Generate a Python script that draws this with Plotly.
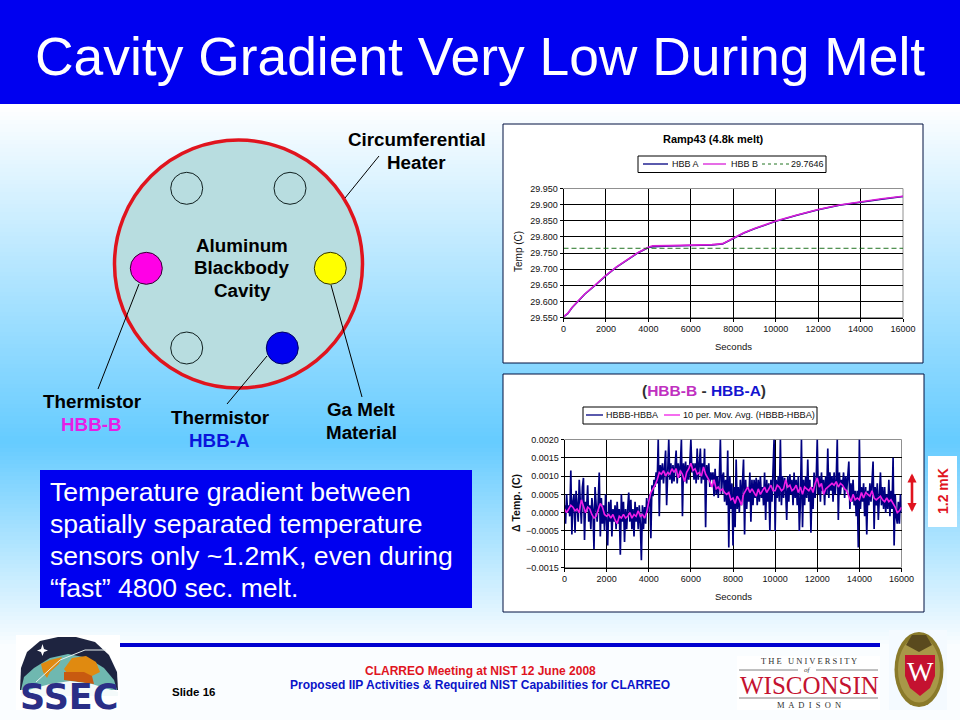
import plotly.graph_objects as go

# ---------- data ----------
ramp_seconds = [0, 200, 400, 700, 1000, 1500, 2000, 2500, 3000, 3500, 4000, 4200, 5000, 6000, 7000, 7500,
                8000, 8500, 9000, 10000, 11000, 12000, 13000, 14000, 15000, 16000]
hbb_a = [29.552, 29.562, 29.580, 29.602, 29.622, 29.650, 29.680, 29.706, 29.728, 29.750, 29.767, 29.769,
         29.772, 29.773, 29.775, 29.778, 29.795, 29.812, 29.825, 29.848, 29.867, 29.884, 29.898, 29.908,
         29.917, 29.925]
hbb_b = [29.553, 29.563, 29.581, 29.603, 29.623, 29.651, 29.681, 29.707, 29.729, 29.751, 29.768, 29.772,
         29.773, 29.774, 29.776, 29.779, 29.796, 29.813, 29.826, 29.849, 29.868, 29.885, 29.899, 29.909,
         29.918, 29.926]
melt_level = [29.7646, 29.7646]
melt_seconds = [0, 16000]

diff_seconds = list(range(0, 16001, 50))
diff_mk = [
    0.2, -0.3, 0.5, 0.0, 0.2, -0.1, 1.15, -0.6, 0.3, 0.5, -0.55, 0.6, 0.2, -0.25, 0.9, 0.1, -0.3, 0.7, 0.95, -0.75,
    0.3, 0.1, 0.75, -0.25, 0.2, -0.45, 0.4, 0.1, -1.0, 0.7, 0.1, -0.25, 0.3, 1.1, -0.65, 0.4, -0.3, 0.2, -0.5, 0.5,
    -0.25, -0.9, 0.3, -0.25, 0.35, -0.65, 0.1, -0.25, 0.2, -0.45, 0.3, -0.3, 0.1, -1.15, 0.5, -0.25, 0.3, -0.8, 0.1, -0.45,
    0.1, 0.55, -0.25, 0.35, -0.45, 0.1, -0.65, 0.3, -0.25, 0.15, -0.45, 0.2, -0.3, -1.3, 0.2, -0.45, 0.15, -0.3, 0.4, 0.0,
    0.3, 0.5, -0.7, 0.75, 0.45, 0.9, 0.7, 1.1, 0.8, 2.0, -0.1, 1.3, 0.9, 1.35, 0.8, 1.25, 1.7, 0.2, 1.3, 2.0,
    0.9, 1.35, 0.8, 1.3, 0.85, 1.35, 1.7, 0.8, 1.35, 0.95, 1.3, 2.0, -0.1, 1.35, 0.85, 1.4, 0.8, 1.3, 0.9, 1.35,
    2.0, 1.1, 1.35, 0.9, 1.35, 0.8, 1.75, 0.9, 1.4, 1.75, 0.8, 1.35, 0.9, 1.75, -0.4, 1.3, 0.9, 1.35, 0.7, 1.1,
    0.9, 1.1, 0.45, 1.2, 0.5, 1.0, 0.4, 0.9, 2.0, 0.5, 1.0, 1.1, 0.3, 0.9, 0.2, 1.7, -0.95, 1.0, 0.1, 0.8,
    -0.9, 0.7, -0.4, 1.45, 0.1, 0.7, 0.0, 0.9, 0.2, 0.8, 1.45, -0.6, 0.9, 0.1, 0.7, 0.3, 1.1, -0.25, 0.9, 0.2,
    0.9, 0.4, 0.95, 0.2, 0.9, 0.3, 1.0, 0.4, 0.7, 0.2, 1.1, -0.2, 0.9, 0.3, 0.8, -0.5, 0.9, 0.3, 1.0, 2.0,
    -0.5, 0.9, 0.4, 1.0, 0.3, 2.0, 0.2, 1.0, 0.4, 0.95, 0.6, -0.2, 1.0, 0.3, 1.05, 0.5, 0.9, 0.2, 1.1, 0.4,
    0.9, 0.2, 1.0, -0.5, 0.3, 2.0, -0.4, 0.9, 0.2, 1.0, 0.4, 1.45, 0.3, 0.9, -0.55, 0.7, 0.1, 1.1, 0.4, 0.9,
    2.0, 0.5, 1.0, 0.3, 1.1, 0.6, 0.9, 0.2, 1.0, 0.5, 1.75, 0.4, 1.1, 0.6, 1.0, 0.3, 1.1, 0.5, 0.9, 2.0,
    -0.2, 1.1, 0.5, 0.9, 0.7, 1.1, 0.4, 1.0, 0.6, 1.0, 1.4, 0.1, 0.8, 0.3, 0.9, 0.2, 0.6, -0.1, 0.6, -0.95,
    2.0, 0.1, 0.7, 0.3, 0.8, -0.1, 0.7, -0.6, 0.6, 0.2, 0.8, 0.3, 0.8, 1.4, -0.45, 0.7, 0.2, 0.8, -0.2, 0.6,
    1.1, 0.2, 0.7, 0.1, 0.7, 0.0, 0.5, 0.1, 0.9, -0.1, 0.6, 0.1, 1.5, -0.9, 0.5, -0.1, -0.3, 0.3, -0.3, 0.5,
    0.0,
]
avg_seconds = list(range(0, 16001, 100))
avg_mk = [
    0.1, 0.0, 0.1, 0.2, 0.15, 0.05, 0.1, 0.0, 0.35, 0.15,
    0.0, 0.15, 0.1, -0.05, -0.15, -0.1, 0.05, 0.25, 0.15, -0.05,
    -0.1, -0.05, -0.15, -0.05, -0.2, -0.3, -0.1, -0.15, -0.05, -0.15,
    -0.1, 0.0, -0.15, -0.05, -0.1, 0.05, -0.1, -0.05, -0.15, 0.0,
    0.3, 0.55, 0.65, 0.75, 0.9, 1.1, 1.05, 1.15, 1.0, 1.1,
    1.05, 1.2, 1.1, 1.2, 0.95, 1.15, 1.05, 0.85, 1.1, 1.2,
    1.35, 1.15, 1.2, 1.05, 1.1, 1.0, 1.25, 1.05, 0.95, 0.85,
    0.7, 0.9, 0.65, 0.7, 0.6, 0.65, 0.55, 0.5, 0.55, 0.35,
    0.4, 0.25, 0.45, 0.35, 0.2, 0.5, 0.6, 0.7, 0.55, 0.65,
    0.55, 0.45, 0.65, 0.5, 0.6, 0.7, 0.55, 0.65, 0.75, 0.6,
    0.6, 0.75, 0.7, 0.6, 0.65, 0.9, 0.7, 0.75, 0.6, 0.65,
    0.75, 0.55, 0.7, 0.5, 0.7, 0.65, 0.6, 0.7, 0.55, 0.8,
    0.95, 0.7, 0.8, 0.5, 0.65, 0.7, 0.75, 0.8, 0.75, 0.85,
    0.7, 0.8, 0.75, 0.65, 0.6, 0.45, 0.3, 0.5, 0.35, 0.4,
    0.35, 0.55, 0.4, 0.55, 0.5, 0.45, 0.6, 0.4, 0.35, 0.4,
    0.45, 0.35, 0.3, 0.4, 0.3, 0.35, 0.25, 0.15, 0.0, 0.05, 0.15,
]
body_lines = ["Temperature gradient between", "spatially separated temperature",
              "sensors only ~1.2mK, even during", "\u201cfast\u201d 4800 sec. melt."]

# ---------- helpers working in page pixels ----------
W, H = 960, 720
def px(x): return x / W
def py(y): return 1 - y / H

shapes = []
annotations = []
def rect(x0, y0, x1, y1, fill, line=None, lw=1):
    shapes.append(dict(type="rect", xref="paper", yref="paper", layer="below", x0=px(x0), x1=px(x1), y0=py(y0), y1=py(y1),
                       fillcolor=fill, line=dict(color=line or "rgba(0,0,0,0)", width=lw if line else 0)))
def circle(cx, cy, r, fill, line="#000000", lw=1):
    shapes.append(dict(type="circle", xref="paper", yref="paper", layer="below", x0=px(cx - r), x1=px(cx + r),
                       y0=py(cy - r), y1=py(cy + r), fillcolor=fill, line=dict(color=line, width=lw)))
def oval(cx, cy, rx, ry, fill, line=None, lw=0):
    shapes.append(dict(type="circle", xref="paper", yref="paper", layer="below", x0=px(cx - rx), x1=px(cx + rx),
                       y0=py(cy - ry), y1=py(cy + ry), fillcolor=fill, line=dict(color=line or fill, width=lw)))
def seg(x0, y0, x1, y1, color="#000000", lw=1, dash="solid"):
    shapes.append(dict(type="line", xref="paper", yref="paper", layer="below", x0=px(x0), x1=px(x1), y0=py(y0), y1=py(y1),
                       line=dict(color=color, width=lw, dash=dash)))
def poly(points, fill):
    d = "M " + " L ".join(f"{px(a):.5f} {py(b):.5f}" for a, b in points) + " Z"
    shapes.append(dict(type="path", xref="paper", yref="paper", layer="below", path=d, fillcolor=fill, line=dict(width=0)))
def text(x, y, s, size, color="#000000", bold=False, anchor="center", family="Liberation Sans", angle=0):
    annotations.append(dict(xref="paper", yref="paper", x=px(x), y=py(y), text=f"<b>{s}</b>" if bold else s, showarrow=False,
                            xanchor=anchor, yanchor="middle", align=anchor, borderpad=0,
                            font=dict(size=size, color=color, family=family), textangle=angle))

# ---------- page background ----------
rect(0, 0, 960, 720, "#FFFFFF")
def mix(t):
    return f"rgb({int(255 + (102 - 255) * t)},{int(255 + (204 - 255) * t)},255)"
for y in range(104, 720, 4):
    t = (y - 104) / (440 - 104) if y < 440 else max(0.03, (650 - y) / (650 - 440))
    rect(0, y, 960, y + 4, mix(t))
rect(0, 0, 960, 104, "#0000F0")
text(480, 57, "Cavity Gradient Very Low During Melt", 53.4, "#FFFFFF")

# ---------- cavity diagram ----------
circle(238.5, 264, 124, "#B8DDE0", "#E0141E", 3.5)
for cx, cy in [(186.7, 188.3), (290, 188.3), (186.7, 348)]:
    circle(cx, cy, 16, "rgba(0,0,0,0)", "#102020", 1)
circle(282.3, 348, 16, "#0000F0", "#000060", 1)
circle(146.3, 268.3, 16, "#FF00E6", "#300030", 1)
circle(330.3, 268.3, 16, "#FFFF00", "#303000", 1)
seg(379, 156, 345, 198)
seg(139, 284, 98, 389)
seg(267, 356, 227, 404)
seg(331, 285, 362, 397)
for s, x, y, c in [("Circumferential", 416.5, 140, "#000000"), ("Heater", 416.5, 163, "#000000"),
                   ("Aluminum", 242, 245, "#000000"), ("Blackbody", 242, 267, "#000000"), ("Cavity", 242, 290, "#000000"),
                   ("Thermistor", 92, 401, "#000000"), ("HBB-B", 91, 424, "#E61EE6"),
                   ("Thermistor", 220, 417, "#000000"), ("HBB-A", 219, 440, "#0A14DC"),
                   ("Ga Melt", 361, 409, "#000000"), ("Material", 361, 432, "#000000")]:
    text(x, y, s, 18.8, c, bold=True)

# ---------- text box ----------
rect(40, 470, 472, 608, "#0000F0")
for i, s in enumerate(body_lines):
    text(49, 492 + i * 32, s, 26.6, "#FFFFFF", anchor="left")

# ---------- chart panels ----------
rect(503, 124, 923, 363, "#FFFFFF", "#001040", 1)
rect(503, 374, 924, 612, "#FFFFFF", "#001040", 1)
rect(563.5, 188.5, 903, 317.5, "#FFFFFF", "#909090", 1)
rect(564.5, 439.5, 901.5, 567.5, "#FFFFFF", "#909090", 1)

# legend boxes with their keys and labels
rect(638, 156, 826, 172.5, "#FFFFFF", "#000000", 1)
seg(643, 164, 668, 164, "#000080", 1.3)
text(671, 164, "HBB A", 9, "#101010", anchor="left")
seg(703, 164, 726, 164, "#D81ED8", 1.3)
text(730, 164, "HBB B", 9, "#101010", anchor="left")
seg(762, 164, 789, 164, "#0A640A", 0.9, "3px,3px")
text(790, 164, "29.7646", 9, "#101010", anchor="left")
rect(583, 407, 817, 424, "#FFFFFF", "#000000", 1)
seg(586, 415, 603, 415, "#000080", 1.3)
text(605, 415, "HBBB-HBBA", 9, "#101010", anchor="left")
seg(664, 415, 680, 415, "#F01EE6", 1.3)
text(682, 415, "10 per. Mov. Avg. (HBBB-HBBA)", 9.2, "#101010", anchor="left")

text(713, 139, "Ramp43 (4.8k melt)", 11, "#000000", bold=True)
text(704, 391, '<span style="color:#303030">(</span><span style="color:#C030C0">HBB-B</span>'
               '<span style="color:#303030"> - </span><span style="color:#1414D0">HBB-A</span>'
               '<span style="color:#303030">)</span>', 15.5, bold=True)
text(519, 252, "Temp (C)", 10, "#101010", angle=-90)
text(733, 346, "Seconds", 9.5, "#101010")
text(516, 503, "\u0394 Temp. (C)", 10.5, "#101010", bold=True, angle=-90)
text(733, 596, "Seconds", 9.5, "#101010")

# ---------- 1.2 mK marker ----------
rect(928, 456, 957, 527, "#FFFFFF")
text(943, 491, "1.2 mK", 14, "#E0141E", bold=True, angle=-90)
annotations.append(dict(xref="paper", yref="paper", axref="pixel", ayref="pixel", x=px(912), y=py(512), ax=0, ay=-40,
                        text="", showarrow=True, arrowside="end+start", arrowhead=2, arrowsize=0.7, arrowwidth=2.6,
                        arrowcolor="#E0141E"))

# ---------- footer ----------
rect(120, 643, 880, 647, "#0000D0")
text(193, 692, "Slide 16", 11.5, "#000000", bold=True)
text(480, 671, "CLARREO Meeting at NIST 12 June 2008", 12, "#E0141E", bold=True)
text(480, 685, "Proposed IIP Activities &amp; Required NIST Capabilities for CLARREO", 12, "#0A14C8", bold=True)

# SSEC logo
rect(16, 635, 120, 710, "#FFFFFF")
poly([(20, 690), (21, 668), (27, 652), (40, 641), (58, 637), (76, 637), (95, 642), (109, 655), (117, 672), (118, 690)], "#1E2440")
poly([(21, 690), (24, 677), (34, 668), (50, 658), (68, 654), (88, 658), (104, 668), (114, 680), (117, 690)], "#6FB8B0")
poly([(41, 664), (50, 660), (62, 657), (59, 664), (50, 672), (47, 678), (43, 672)], "#E08A10")
poly([(64, 669), (72, 658), (86, 656), (96, 662), (100, 672), (88, 678), (70, 677)], "#E08A10")
poly([(64, 680), (64, 672), (84, 672), (92, 676), (94, 684)], "#C85A10")
poly([(21, 692), (50, 684), (70, 681), (92, 684), (118, 692), (118, 696), (21, 696)], "#F4FAFA")
seg(36, 682, 60, 660, "#E8F0F0", 1)
seg(60, 660, 85, 650, "#E8F0F0", 1)
seg(85, 650, 106, 650, "#E8F0F0", 1)
poly([(42.5, 644), (44, 649), (48, 650.5), (44, 652), (42.5, 656), (41, 652), (37, 650.5), (41, 649)], "#FFFFFF")
text(68.5, 697, "SSEC", 35, "#2A2E86", bold=True, family="DejaVu Sans")

# Wisconsin wordmark
rect(737, 656, 880, 710, "#FFFFFF")
text(809, 661, "T H E   U N I V E R S I T Y", 8.5, "#303030", family="Liberation Serif")
seg(739, 670, 798, 670, "#808080", 1)
seg(816, 670, 878, 670, "#808080", 1)
text(807, 670, "<i>of</i>", 7, "#404040", family="Liberation Serif")
text(809, 685, "WISCONSIN", 25, "#C41230", family="Liberation Serif")
seg(739, 698, 878, 698, "#808080", 1)
text(809, 705, "M  A  D  I  S  O  N", 8.5, "#303030", family="Liberation Serif")

# crest
rect(889, 630, 947, 710, "#F4FAFF")
oval(919, 669.5, 24.5, 37.5, "#8A7A2A")
oval(919, 669.5, 21, 33, "#A89848")
poly([(905, 655), (935, 655), (935, 676), (930, 688), (920, 696), (910, 688), (905, 676)], "#C41230")
poly([(912, 635), (926, 635), (932, 645), (919, 652), (906, 645)], "#5A4A1E")
text(920, 671, "W", 28, "#FFFFFF", family="Liberation Serif")

# ---------- figure ----------
fig = go.Figure()
fig.add_trace(go.Scatter(x=ramp_seconds, y=hbb_a, mode="lines", name="HBB A", line=dict(color="#000080", width=1.5),
                         xaxis="x", yaxis="y"))
fig.add_trace(go.Scatter(x=ramp_seconds, y=hbb_b, mode="lines", name="HBB B", line=dict(color="#D81ED8", width=1.6),
                         xaxis="x", yaxis="y"))
fig.add_trace(go.Scatter(x=melt_seconds, y=melt_level, mode="lines", name="29.7646",
                         line=dict(color="#0A640A", width=0.9, dash="5px,3px"), xaxis="x", yaxis="y"))
fig.add_trace(go.Scatter(x=diff_seconds, y=[v / 1000 for v in diff_mk], mode="lines", name="HBBB-HBBA",
                         line=dict(color="#000080", width=1.7), xaxis="x2", yaxis="y2"))
fig.add_trace(go.Scatter(x=avg_seconds, y=[v / 1000 for v in avg_mk], mode="lines", name="10 per. Mov. Avg. (HBBB-HBBA)",
                         line=dict(color="#F01EE6", width=1.6), xaxis="x2", yaxis="y2"))

axis_font = dict(size=9, family="Liberation Sans", color="#101010")
def axis(domain, rng, dtick, fmt, anchor):
    return dict(domain=domain, range=rng, dtick=dtick, tick0=rng[0], tickformat=fmt, anchor=anchor, showgrid=True,
                gridcolor="#000000", gridwidth=1, showline=True, linecolor="#000000", linewidth=1, ticks="outside",
                ticklen=3, tickcolor="#000000", tickfont=axis_font, zeroline=False, fixedrange=True)

fig.update_layout(
    width=W, height=H, autosize=False, margin=dict(l=0, r=0, t=0, b=0, autoexpand=False), paper_bgcolor="rgba(0,0,0,0)",
    plot_bgcolor="rgba(0,0,0,0)", shapes=shapes, annotations=annotations, showlegend=False,
    xaxis=axis([px(563.5), px(903)], [0, 16000], 2000, "d", "y"),
    yaxis=axis([py(317.5), py(188.5)], [29.55, 29.95], 0.05, ".3f", "x"),
    xaxis2=axis([px(564.5), px(901.5)], [0, 16000], 2000, "d", "y2"),
    yaxis2=axis([py(567.5), py(439.5)], [-0.0015, 0.002], 0.0005, ".4f", "x2"),
)
fig.write_html("out.html", config={"displayModeBar": False},
               post_script="document.body.style.margin='0';document.documentElement.style.overflow='hidden';")
